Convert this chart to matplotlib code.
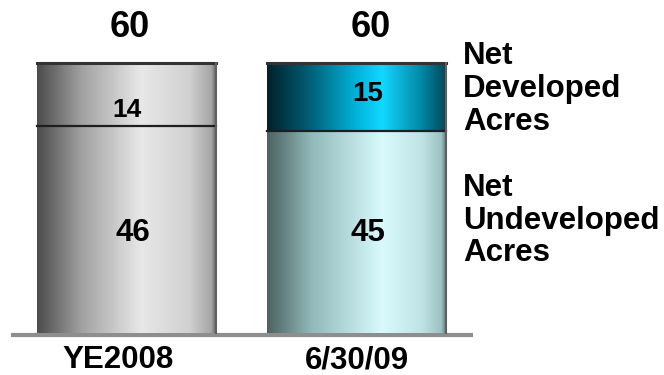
import numpy as np
import matplotlib
matplotlib.use('Agg')
import matplotlib.pyplot as plt
from matplotlib.colors import LinearSegmentedColormap

# acreage data (thousands)
periods = ['YE2008', '6/30/09']
undeveloped = [46, 45]
developed = [14, 15]
totals = [u + d for u, d in zip(undeveloped, developed)]
series_names = ['Net\nDeveloped\nAcres', 'Net\nUndeveloped\nAcres']

plt.rcParams['font.family'] = ['Liberation Sans', 'DejaVu Sans']
plt.rcParams['font.weight'] = 'bold'

# cylinder style shading, left to right
gray = LinearSegmentedColormap.from_list('gray_cyl', [
    (0.0, '#4c4c4c'), (0.25, '#a2a2a2'), (0.58, '#e8e8e8'),
    (0.85, '#d0d0d0'), (0.97, '#a6a6a6'), (1.0, '#5a5a5a')])
teal = LinearSegmentedColormap.from_list('teal_cyl', [
    (0.0, '#00222a'), (0.22, '#005a70'), (0.5, '#00b4dc'),
    (0.64, '#12d8ff'), (0.86, '#0088a6'), (0.97, '#005466'), (1.0, '#203c44')])
pale = LinearSegmentedColormap.from_list('pale_cyl', [
    (0.0, '#4c6262'), (0.25, '#92baba'), (0.64, '#d8fafd'),
    (0.86, '#bfe3e6'), (0.97, '#9cc2c2'), (1.0, '#607070')])

fig = plt.figure(figsize=(6.64, 3.75), dpi=100)
ax = fig.add_axes([0, 0, 1, 1])
ax.set_xlim(-0.553, 2.34)
ax.set_ylim(-9.33, 74)
ax.axis('off')

x = np.arange(len(periods))
width = 0.78
grad = np.linspace(0, 1, 256).reshape(1, -1)

# baseline
ax.plot([-0.505, 1.508], [-0.35, -0.35], color='#8e8e8e', lw=3, zorder=1,
        solid_capstyle='butt')

low = ax.bar(x, undeveloped, width, color='none', edgecolor='none', zorder=2)
high = ax.bar(x, developed, width, bottom=undeveloped, color='none',
              edgecolor='none', zorder=2)

low_maps = [gray, pale]
high_maps = [gray, teal]
for i in range(len(periods)):
    for rect, cmap in ((low[i], low_maps[i]), (high[i], high_maps[i])):
        x0, y0 = rect.get_x(), rect.get_y()
        w, h = rect.get_width(), rect.get_height()
        im = ax.imshow(grad, cmap=cmap, aspect='auto', zorder=2,
                       extent=(x0, x0 + w, y0, y0 + h), interpolation='bilinear')
        im.set_clip_path(rect)
    # outline: top edge, divider, right shadow
    x0 = low[i].get_x()
    ax.plot([x0, x0 + width], [totals[i], totals[i]], color='#333333', lw=2.2, zorder=3)
    ax.plot([x0, x0 + width], [undeveloped[i]] * 2, color='#1e1e1e', lw=1.6, zorder=3)
    ax.plot([x0 + width, x0 + width], [0, totals[i]], color='#606060', lw=1.5, zorder=3)

# value labels
shift = [0.0, 0.05]
top_dy = [-3.5, 0.6]
for i in range(len(periods)):
    ax.text(x[i] + shift[i] + 0.013, totals[i] + 7.9, str(totals[i]),
            ha='center', va='center', fontsize=26, fontweight='bold')
    ax.text(x[i] + shift[i], undeveloped[i] + developed[i] / 2 + top_dy[i],
            str(developed[i]), ha='center', va='center',
            fontsize=19 + i, fontweight='bold')
    ax.text(x[i] + shift[i] + 0.028 - 0.028 * i, undeveloped[i] / 2 - 0.8 + 0.5 * i,
            str(undeveloped[i]), ha='center', va='center',
            fontsize=22.5, fontweight='bold')
    ax.text(x[i] - 0.04 * (1 - i), -6.1, periods[i],
            ha='center', va='center', fontsize=22.5, fontweight='bold')

# series labels to the right of the second bar
ax.text(1.464, 54.3, series_names[0], ha='left', va='center', fontsize=22.5,
        fontweight='bold', linespacing=1.13)
ax.text(1.464, 25.0, series_names[1], ha='left', va='center', fontsize=22.5,
        fontweight='bold', linespacing=1.13)

fig.savefig('out.png', dpi=100)
